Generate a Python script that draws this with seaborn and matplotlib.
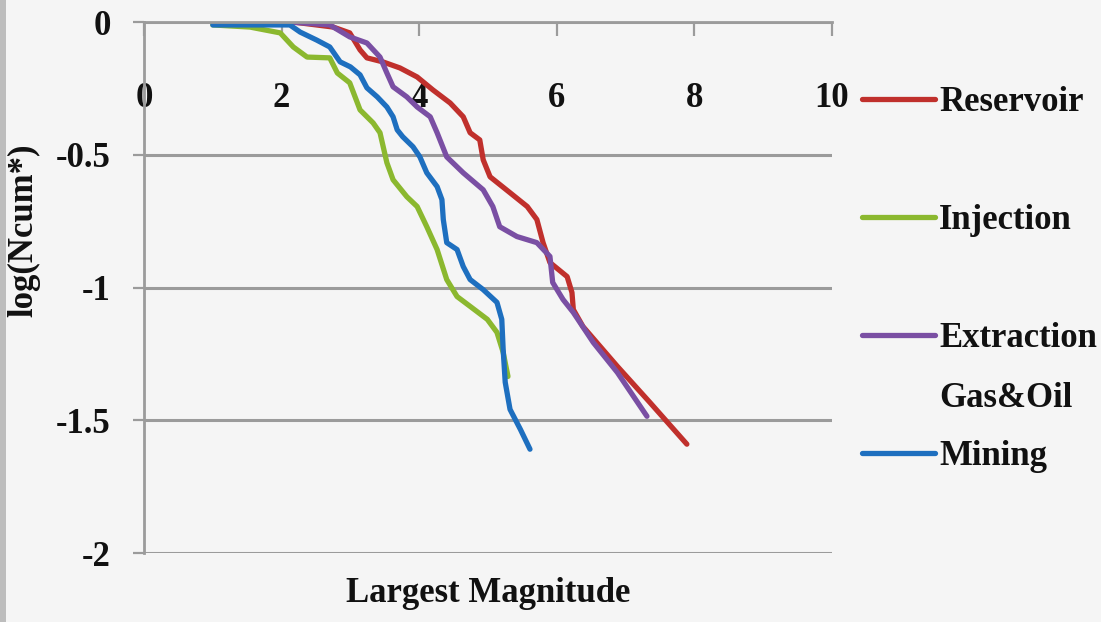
import numpy as np
import pandas as pd
import matplotlib
matplotlib.use("Agg")
import matplotlib.pyplot as plt
from matplotlib.patches import Rectangle
import seaborn as sns

# Cumulative-number curves versus largest magnitude, per seismicity type
reservoir_mag = [2.17, 2.75, 2.99, 3.14, 3.24, 3.47, 3.72, 3.97, 4.20, 4.45, 4.64, 4.74, 4.88,
                 4.93, 5.03, 5.32, 5.57, 5.71, 5.80, 5.90, 6.15, 6.22, 6.24, 6.38, 6.88, 7.35, 7.89]
reservoir_log = [0.0, -0.019, -0.041, -0.105, -0.135, -0.150, -0.173, -0.207, -0.256, -0.305,
                 -0.357, -0.417, -0.444, -0.519, -0.583, -0.643, -0.695, -0.744, -0.831, -0.906,
                 -0.959, -1.019, -1.083, -1.147, -1.297, -1.432, -1.590]

injection_mag = [1.00, 1.54, 1.98, 2.17, 2.37, 2.70, 2.81, 2.99, 3.14, 3.33, 3.43, 3.53, 3.62,
                 3.82, 3.97, 4.11, 4.26, 4.40, 4.55, 4.74, 4.99, 5.13, 5.22, 5.29]
injection_log = [-0.011, -0.019, -0.041, -0.094, -0.132, -0.135, -0.192, -0.229, -0.331, -0.380,
                 -0.417, -0.530, -0.594, -0.658, -0.695, -0.771, -0.857, -0.970, -1.034, -1.071,
                 -1.120, -1.169, -1.244, -1.335]

extraction_mag = [2.12, 2.70, 2.99, 3.24, 3.43, 3.53, 3.62, 3.82, 3.97, 4.16, 4.26, 4.40, 4.64,
                  4.93, 5.07, 5.17, 5.42, 5.71, 5.90, 5.94, 6.09, 6.24, 6.53, 6.88, 7.31]
extraction_log = [0.0, -0.011, -0.056, -0.079, -0.132, -0.192, -0.244, -0.282, -0.320, -0.357,
                  -0.417, -0.508, -0.568, -0.632, -0.695, -0.771, -0.808, -0.831, -0.883, -0.981,
                  -1.045, -1.094, -1.207, -1.320, -1.485]

mining_mag = [1.00, 2.12, 2.27, 2.51, 2.70, 2.85, 3.00, 3.14, 3.24, 3.39, 3.53, 3.62, 3.68, 3.76,
              3.91, 4.01, 4.11, 4.26, 4.33, 4.35, 4.40, 4.55, 4.64, 4.74, 4.93, 5.13, 5.20, 5.22,
              5.25, 5.32, 5.47, 5.61]
mining_log = [-0.011, -0.011, -0.038, -0.068, -0.094, -0.150, -0.169, -0.199, -0.248, -0.282,
              -0.320, -0.357, -0.406, -0.432, -0.470, -0.508, -0.568, -0.620, -0.669, -0.744,
              -0.831, -0.857, -0.921, -0.970, -1.008, -1.056, -1.120, -1.233, -1.357, -1.459,
              -1.534, -1.609]

series_names = ["Reservoir", "Injection", "Extraction", "Mining"]
series_colors = ["#c0302c", "#8bb82f", "#7a4fa3", "#1e6fbf"]

x_ticks = [0, 2, 4, 6, 8, 10]
x_tick_labels = ["0", "2", "4", "6", "8", "10"]
y_ticks = [0, -0.5, -1, -1.5, -2]
y_tick_labels = ["0", "-0.5", "-1", "-1.5", "-2"]

frames = []
for name, mags, logs in zip(series_names,
                            [reservoir_mag, injection_mag, extraction_mag, mining_mag],
                            [reservoir_log, injection_log, extraction_log, mining_log]):
    frames.append(pd.DataFrame({"mag": mags, "logn": logs, "type": name}))
df = pd.concat(frames, ignore_index=True)

sns.set_theme(style="white")
plt.rcParams["font.family"] = ["Liberation Serif", "DejaVu Serif"]
plt.rcParams["font.weight"] = "bold"
plt.rcParams["text.color"] = "#111111"
plt.rcParams["axes.labelcolor"] = "#111111"
plt.rcParams["xtick.color"] = "#111111"
plt.rcParams["ytick.color"] = "#111111"

bg = "#f5f5f5"
axis_gray = "#9b9b9b"
fs = 25

fig = plt.figure(figsize=(11.01, 6.22), dpi=100, facecolor=bg)
ax = fig.add_axes([0.1308, 0.1109, 0.6249, 0.8537])
ax.set_facecolor(bg)

sns.lineplot(data=df, x="mag", y="logn", hue="type", hue_order=series_names,
             palette=series_colors, sort=False, estimator=None, linewidth=3.8,
             solid_joinstyle="round", solid_capstyle="round",
             ax=ax, legend=False)

ax.set_xlim(0, 10)
ax.set_ylim(-2, 0)

# Horizontal axis sits on y = 0 at the top, labels hang below it
ax.set_xticks(x_ticks)
ax.set_xticklabels(x_tick_labels, fontsize=fs, fontweight="bold")
ax.tick_params(axis="x", bottom=False, labelbottom=False, top=True, labeltop=True,
               direction="in", length=10, width=1.6, color=axis_gray, pad=-67)

ax.set_yticks(y_ticks)
ax.set_yticklabels(y_tick_labels, fontsize=fs, fontweight="bold")
ax.tick_params(axis="y", left=True, direction="out", length=8, width=1.6,
               color=axis_gray, pad=16)

ax.yaxis.grid(True, color=axis_gray, linewidth=2.2)
ax.xaxis.grid(False)
for side in ["bottom", "right"]:
    ax.spines[side].set_visible(False)
for side in ["top", "left"]:
    ax.spines[side].set_color(axis_gray)
    ax.spines[side].set_linewidth(2.0)

ax.set_xlabel("Largest Magnitude", fontsize=fs, fontweight="bold")
ax.xaxis.set_label_position("bottom")
ax.xaxis.set_label_coords(0.5, -0.045)
ax.set_ylabel("log(Ncum*)", fontsize=fs, fontweight="bold")
ax.yaxis.set_label_coords(-0.15, 0.608)

# Legend beside the plot
handles = [plt.Line2D([], [], color=c, linewidth=3.8) for c in series_colors]
leg = ax.legend(handles, series_names, loc="upper left",
                bbox_to_anchor=(862 / 1101, 1 - 86 / 622), bbox_transform=fig.transFigure,
                frameon=False, fontsize=fs, handlelength=2.1, handletextpad=0.12,
                labelspacing=2.45, borderpad=0, borderaxespad=0,
                prop={"weight": "bold", "size": fs})

fig.canvas.draw()
ax.annotate("Gas&Oil", xy=(0, 0.5), xycoords=leg.get_texts()[2],
            xytext=(0, -43), textcoords="offset points",
            ha="left", va="center", fontsize=fs, fontweight="bold")

fig.patches.append(Rectangle((0, 0), 6 / 1101, 1, transform=fig.transFigure,
                             facecolor="#bdbdbd", edgecolor="none", zorder=-1))

fig.savefig("out.png", dpi=100, facecolor=bg)
